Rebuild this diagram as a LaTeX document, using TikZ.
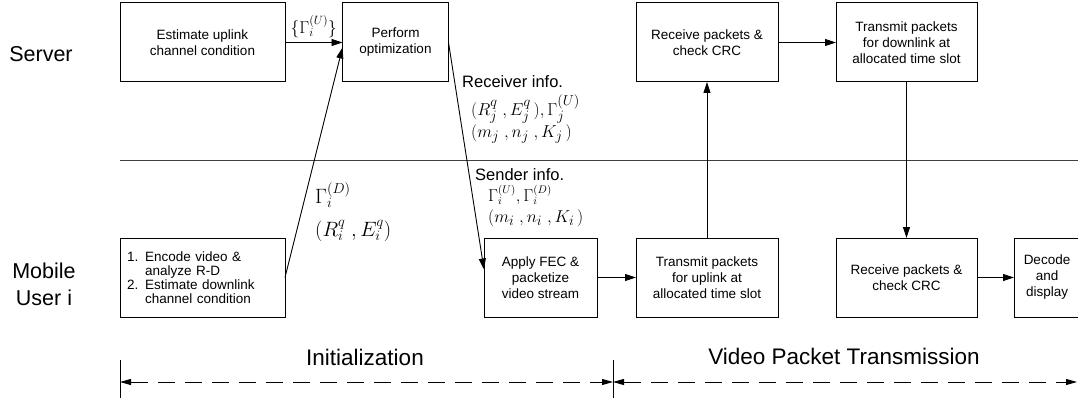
\documentclass[tikz,border=0pt]{standalone}
\usepackage[no-math]{fontspec}
\setmainfont{Liberation Sans}
\usetikzlibrary{arrows.meta}

\tikzset{
  stage/.style={draw, line width=1pt, inner sep=0pt, outer sep=0pt, align=center,
    minimum height=79pt, font=\fontsize{13.5}{16}\selectfont},
  flow/.style={line width=0.9pt, -{Triangle[length=11pt,width=7pt]}},
  lane/.style={align=center, font=\fontsize{21.5}{27}\selectfont},
  phase/.style={font=\fontsize{22.5}{26}\selectfont},
  info/.style={anchor=west, inner sep=0pt, font=\fontsize{16.5}{19}\selectfont},
  eqbig/.style={anchor=west, inner sep=0pt, font=\fontsize{21.5}{24}\selectfont},
  eqmid/.style={anchor=west, inner sep=0pt, font=\fontsize{19}{21}\selectfont},
  eqsmall/.style={anchor=west, inner sep=0pt, font=\fontsize{16}{19}\selectfont},
  span/.style={line width=0.9pt, dash pattern=on 17pt off 10pt,
    {Triangle[length=11pt,width=6pt]}-{Triangle[length=11pt,width=6pt]}},
  tick/.style={line width=0.9pt},
}

\begin{document}
\begin{tikzpicture}[x=1pt,y=-1pt]
\useasboundingbox (0,0) rectangle (1078,398);

% swim-lane titles
\node[lane] (srv) at (41,54) {Server};
\node[lane] (mob) at (44,284) {Mobile\\User i};

% server lane
\node[stage, minimum width=165pt] (est) at (202.5,42.5) {Estimate uplink\\channel condition};
\node[stage, minimum width=106pt] (opt) at (395.5,42.5) {Perform\\optimization};
\node[stage, minimum width=142pt] (rcs) at (707,42.5) {Receive packets \&\\check CRC};
\node[stage, minimum width=141pt] (tdl) at (906.5,42.5) {Transmit packets\\for downlink at\\allocated time slot};

% mobile user lane
\node[stage, minimum width=165pt, text width=151pt, align=left,
      font=\fontsize{13.5}{14}\selectfont] (enc) at (202.5,277.5)
  {1. Encode video \&\\\phantom{1. }analyze R-D\\2. Estimate downlink\\\phantom{2. }channel condition};
\node[stage, minimum width=113pt] (fec) at (540.5,277.5) {Apply FEC \&\\packetize\\video stream};
\node[stage, minimum width=142pt] (tul) at (707,277.5) {Transmit packets\\for uplink at\\allocated time slot};
\node[stage, minimum width=141pt] (rcu) at (906.5,277.5) {Receive packets \&\\check CRC};
\node[stage, minimum width=66pt] (dec) at (1047,277.5) {Decode\\and\\display};

% lane separator
\coordinate (sepL) at (120,160);
\coordinate (sepR) at (1078,160);
\draw[line width=0.8pt, black!75] (sepL) -- (sepR);

% message flow
\draw[flow] (est) -- (opt)
  node[midway, above=1pt, font=\fontsize{17.5}{19}\selectfont] (gu) {$\{\Gamma_i^{(U)}\}$};
\draw[flow] (enc.east) -- ([yshift=-5pt]opt.west);
\draw[flow] (opt.east) -- ([yshift=8pt]fec.west);
\draw[flow] (rcs) -- (tdl);
\draw[flow] (tul) -- (rcs);
\draw[flow] (tdl) -- (rcu);
\draw[flow] (fec) -- (tul);
\draw[flow] (rcu) -- (dec);

% exchanged parameters
\node[eqbig] (gd) at (315,195) {$\Gamma_i^{(D)}$};
\node[eqbig] (rq) at (315,231) {$(R_i^q\;, E_i^q)$};

\node[info] (rinfo) at (462,82) {Receiver info.};
\node[eqmid] (rrow1) at (471,109) {$(R_j^q\;, E_j^q\,),\Gamma_j^{(U)}$};
\node[eqmid] (rrow2) at (471,134) {$(m_j\;, n_j\;, K_j\,)$};
\node[info] (sinfo) at (475,175) {Sender info.};
\node[eqsmall] (srow1) at (488,195) {$\Gamma_i^{(U)},\Gamma_i^{(D)}$};
\node[eqmid] (srow2) at (488,218) {$(m_i\;, n_i\;, K_i\,)$};

% phases
\node[phase] (init) at (365,357) {Initialization};
\node[phase] (vpt) at (844,356) {Video Packet Transmission};
\coordinate (t0) at (120,382);
\coordinate (t1) at (613,382);
\coordinate (t2) at (1077,382);
\coordinate (k0a) at (120,360);
\coordinate (k0b) at (120,398);
\coordinate (k1a) at (613,360);
\coordinate (k1b) at (613,398);
\draw[tick] (k0a) -- (k0b);
\draw[tick] (k1a) -- (k1b);
\draw[span] (t0) -- (t1);
\draw[span] (t1) -- (t2);
\end{tikzpicture}
\end{document}
